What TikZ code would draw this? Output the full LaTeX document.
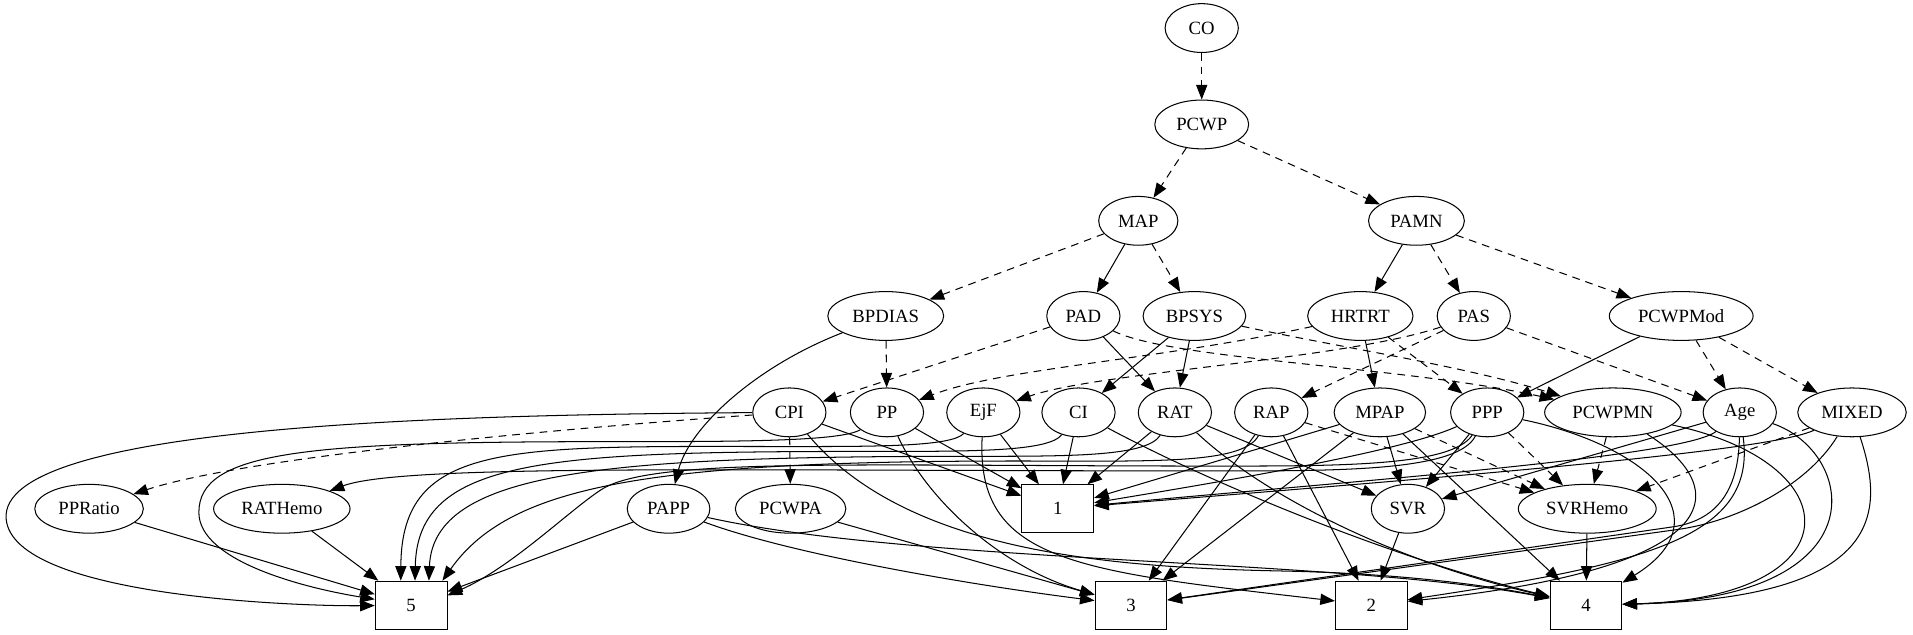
\documentclass[tikz,border=0pt]{standalone}
\usepackage{fontspec}
\setmainfont{Liberation Serif}
\usepackage{tikz}
\usetikzlibrary{arrows.meta,shapes.geometric}
\tikzset{
  var/.style={ellipse,draw,line width=0.6pt,minimum width=1.5cm,minimum height=1cm,inner xsep=4.5pt,inner ysep=1pt,font=\fontsize{10.9pt}{13pt}\selectfont},
  score/.style={rectangle,draw,line width=0.6pt,minimum width=1.47cm,minimum height=0.98cm,font=\fontsize{10.9pt}{13pt}\selectfont},
  arc/.style={-{Triangle[length=8.5pt,width=6.5pt]},line width=0.6pt},
  darc/.style={arc,dash pattern=on 4.5pt off 3.5pt}
}

\begin{document}
\begin{tikzpicture}[x=0.025cm,y=-0.025cm]
  \useasboundingbox (0,0) rectangle (1568,520);
  % variables, one row per rank
  \node[var] (CO) at (985,23) {CO};
  \node[var] (PCWP) at (985,102) {PCWP};
  \node[var] (MAP) at (933,181) {MAP};
  \node[var] (PAMN) at (1161,181) {PAMN};
  \node[var] (BPDIAS) at (726,259) {BPDIAS};
  \node[var] (PAD) at (888,259) {PAD};
  \node[var] (BPSYS) at (979,259) {BPSYS};
  \node[var] (HRTRT) at (1115,259) {HRTRT};
  \node[var] (PAS) at (1208,259) {PAS};
  \node[var] (PCWPMod) at (1378,259) {PCWPMod};
  \node[var] (CPI) at (647,338) {CPI};
  \node[var] (PP) at (727,338) {PP};
  \node[var] (EjF) at (806,338) {EjF};
  \node[var] (CI) at (884,338) {CI};
  \node[var] (RAT) at (963,338) {RAT};
  \node[var] (RAP) at (1042,338) {RAP};
  \node[var] (MPAP) at (1131,338) {MPAP};
  \node[var] (PPP) at (1219,338) {PPP};
  \node[var] (PCWPMN) at (1322,338) {PCWPMN};
  \node[var] (Age) at (1426,338) {Age};
  \node[var] (MIXED) at (1518,338) {MIXED};
  \node[var] (PPRatio) at (73,417) {PPRatio};
  \node[var] (RATHemo) at (231,417) {RATHemo};
  \node[var] (PAPP) at (548,417) {PAPP};
  \node[var] (PCWPA) at (648,417) {PCWPA};
  \node[score] (n1) at (867,417) {1};
  \node[var] (SVR) at (1154,417) {SVR};
  \node[var] (SVRHemo) at (1301,417) {SVRHemo};
  \node[score] (n5) at (337,496) {5};
  \node[score] (n3) at (927,496) {3};
  \node[score] (n2) at (1124,496) {2};
  \node[score] (n4) at (1300,496) {4};

  % straight links
  \foreach \a/\b in {CO/PCWP,PCWP/MAP,PCWP/PAMN,MAP/BPDIAS,MAP/BPSYS,PAMN/PAS,PAMN/PCWPMod,
      BPDIAS/PP,PAD/CPI,HRTRT/PPP,PAS/RAP,PAS/Age,PCWPMod/Age,PCWPMod/MIXED,CPI/PCWPA,
      RAP/SVRHemo,MPAP/SVRHemo,PPP/SVRHemo,PCWPMN/SVRHemo,MIXED/SVRHemo}
    \draw[darc] (\a) -- (\b);
  \foreach \a/\b in {MAP/PAD,PAMN/HRTRT,PAD/RAT,BPSYS/CI,BPSYS/RAT,HRTRT/MPAP,PCWPMod/PPP,
      CPI/n1,PP/n1,EjF/n1,CI/n1,RAT/n1,MPAP/n1,RAT/SVR,MPAP/SVR,PPP/SVR,Age/SVR,
      RAP/n3,MPAP/n3,PCWPA/n3,RAP/n2,SVR/n2,MPAP/n4,SVRHemo/n4,PPRatio/n5,RATHemo/n5,PAPP/n5}
    \draw[arc] (\a) -- (\b);

  % curved links
  \draw[darc] (PAD) .. controls (960,295) and (1150,300) .. (PCWPMN);
  \draw[darc] (BPSYS) .. controls (1100,285) and (1200,300) .. (PCWPMN);
  \draw[darc] (HRTRT) .. controls (950,295) and (820,302) .. (PP);
  \draw[darc] (PAS) .. controls (1100,295) and (900,305) .. (EjF);
  \draw[darc] (CPI) .. controls (450,352) and (200,375) .. (PPRatio);
  \draw[arc] (BPDIAS) .. controls (620,300) and (565,350) .. (PAPP);
  \draw[arc] (CPI) .. controls (350,340) and (0,350) .. (5,425) .. controls (10,490) and (250,497) .. (n5);
  \draw[arc] (PP) .. controls (690,362) and (600,362) .. (500,362) .. controls (250,362) and (163,370) .. (163,420) .. controls (163,460) and (250,482) .. (n5);
  \draw[arc] (EjF) .. controls (780,366) and (720,366) .. (650,366) .. controls (420,366) and (329,360) .. (n5.113);
  \draw[arc] (CI) .. controls (860,370) and (800,370) .. (720,370) .. controls (450,370) and (342,375) .. (n5.81);
  \draw[arc] (RAT) .. controls (940,374) and (880,374) .. (800,374) .. controls (500,374) and (355,385) .. (n5.54);
  \draw[arc] (RAP) .. controls (1020,378) and (960,378) .. (880,378) .. controls (540,376) and (420,395) .. (n5.38);
  \draw[arc] (PPP) .. controls (1190,382) and (1100,382) .. (1000,382) .. controls (700,382) and (540,375) .. (495,400) .. controls (470,415) and (420,465) .. (n5.15);
  \draw[arc] (PPP) .. controls (1195,386) and (1100,386) .. (1000,386) .. controls (600,386) and (330,380) .. (RATHemo);
  \draw[arc] (PP) .. controls (760,410) and (820,465) .. (n3);
  \draw[arc] (PAPP) .. controls (650,455) and (800,480) .. (n3);
  \draw[arc] (PAPP) .. controls (750,462) and (1100,458) .. (n4);
  \draw[arc] (CPI) .. controls (740,450) and (900,465) .. (1050,468) .. controls (1150,470) and (1220,480) .. (n4);
  \draw[arc] (EjF) .. controls (800,460) and (880,468) .. (n2);
  \draw[arc] (CI) .. controls (1000,400) and (1150,460) .. (n4);
  \draw[arc] (RAT) .. controls (1040,410) and (1150,462) .. (n4);
  \draw[arc] (PPP) .. controls (1150,370) and (1000,395) .. (n1);
  \draw[arc] (Age) .. controls (1380,375) and (1100,395) .. (n1);
  \draw[arc] (MIXED) .. controls (1450,370) and (1200,390) .. (n1);
  \draw[arc] (PPP) .. controls (1350,365) and (1415,425) .. (n4);
  \draw[arc] (PCWPMN) .. controls (1420,400) and (1420,465) .. (n2);
  \draw[arc] (Age) .. controls (1440,440) and (1350,462) .. (n2);
  \draw[arc] (Age) .. controls (1425,410) and (1400,428) .. (1370,432) -- (n3);
  \draw[arc] (MIXED) .. controls (1480,400) and (1420,428) .. (1375,434) -- (n3);
  \draw[arc] (PCWPMN) .. controls (1520,380) and (1520,490) .. (n4);
  \draw[arc] (Age) .. controls (1520,370) and (1545,490) .. (n4);
  \draw[arc] (MIXED) .. controls (1545,420) and (1545,490) .. (n4);
\end{tikzpicture}
\end{document}
